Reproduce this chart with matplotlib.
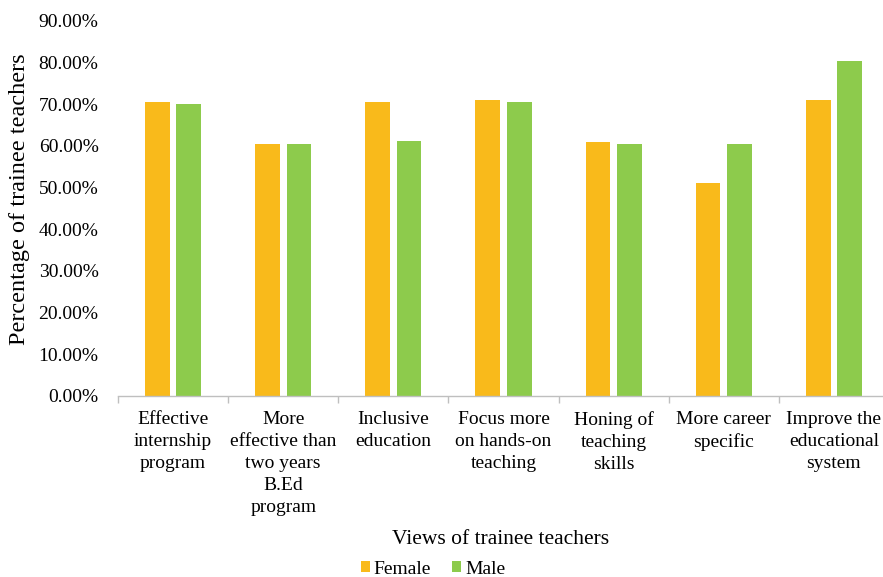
import numpy as np
import matplotlib
matplotlib.use("Agg")
import matplotlib.pyplot as plt
from matplotlib.ticker import FuncFormatter

plt.rcParams['font.family'] = ['Liberation Serif', 'DejaVu Serif']

# 受講者の意見（カテゴリ）と男女別の割合
categories = [
    "Effective\ninternship\nprogram",
    "More\neffective than\ntwo years\nB.Ed\nprogram",
    "Inclusive\neducation",
    "Focus more\non hands-on\nteaching",
    "Honing of\nteaching\nskills",
    "More career\nspecific",
    "Improve the\neducational\nsystem",
]
female = [70.5, 60.5, 70.5, 70.9, 60.8, 51.0, 70.9]
male = [70.0, 60.5, 61.2, 70.4, 60.4, 60.4, 80.4]

yticks = np.arange(0, 100, 10)

orange = "#F9BA1B"
green = "#8DCB4C"

fig = plt.figure(figsize=(8.83, 5.77), dpi=100)
ax = fig.add_axes([118 / 883, 181 / 577, 771 / 883, 375.3 / 577])

x = np.arange(len(categories))
w = 0.225
off = 0.143
ax.bar(x - off, female, width=w, color=orange, label="Female", zorder=2)
ax.bar(x + off, male, width=w, color=green, label="Male", zorder=2)

ax.set_xlim(-0.5, len(categories) - 0.5)
ax.set_ylim(0, 90)
ax.set_yticks(yticks)
ax.yaxis.set_major_formatter(FuncFormatter(lambda v, p: f"{v:.2f}%"))
ax.tick_params(axis='y', length=0, pad=14, labelsize=14)

ax.set_xticks(x)
ax.set_xticklabels(categories, fontsize=14, linespacing=1.38, va='top')
ax.tick_params(axis='x', which='major', length=0, pad=11)
ax.set_xticks(np.arange(-0.5, len(categories), 1), minor=True)
ax.tick_params(axis='x', which='minor', length=5, color="#BFBFBF", width=1)

for s in ['top', 'right', 'left']:
    ax.spines[s].set_visible(False)
ax.spines['bottom'].set_color("#BFBFBF")
ax.spines['bottom'].set_linewidth(1)

fig.text(20 / 883, 1 - 199 / 577, "Percentage of trainee teachers",
         rotation=90, ha='center', va='center', fontsize=17.5)
fig.text(501 / 883, 1 - 539 / 577, "Views of trainee teachers",
         ha='center', va='center', fontsize=15.5)

fig.legend(loc='center', bbox_to_anchor=(433 / 883, 1 - 569 / 577),
           ncol=2, frameon=False, fontsize=14, handlelength=0.45,
           handleheight=0.45, handletextpad=0.2, columnspacing=1.1,
           borderpad=0)

fig.savefig("out.png", dpi=100)
